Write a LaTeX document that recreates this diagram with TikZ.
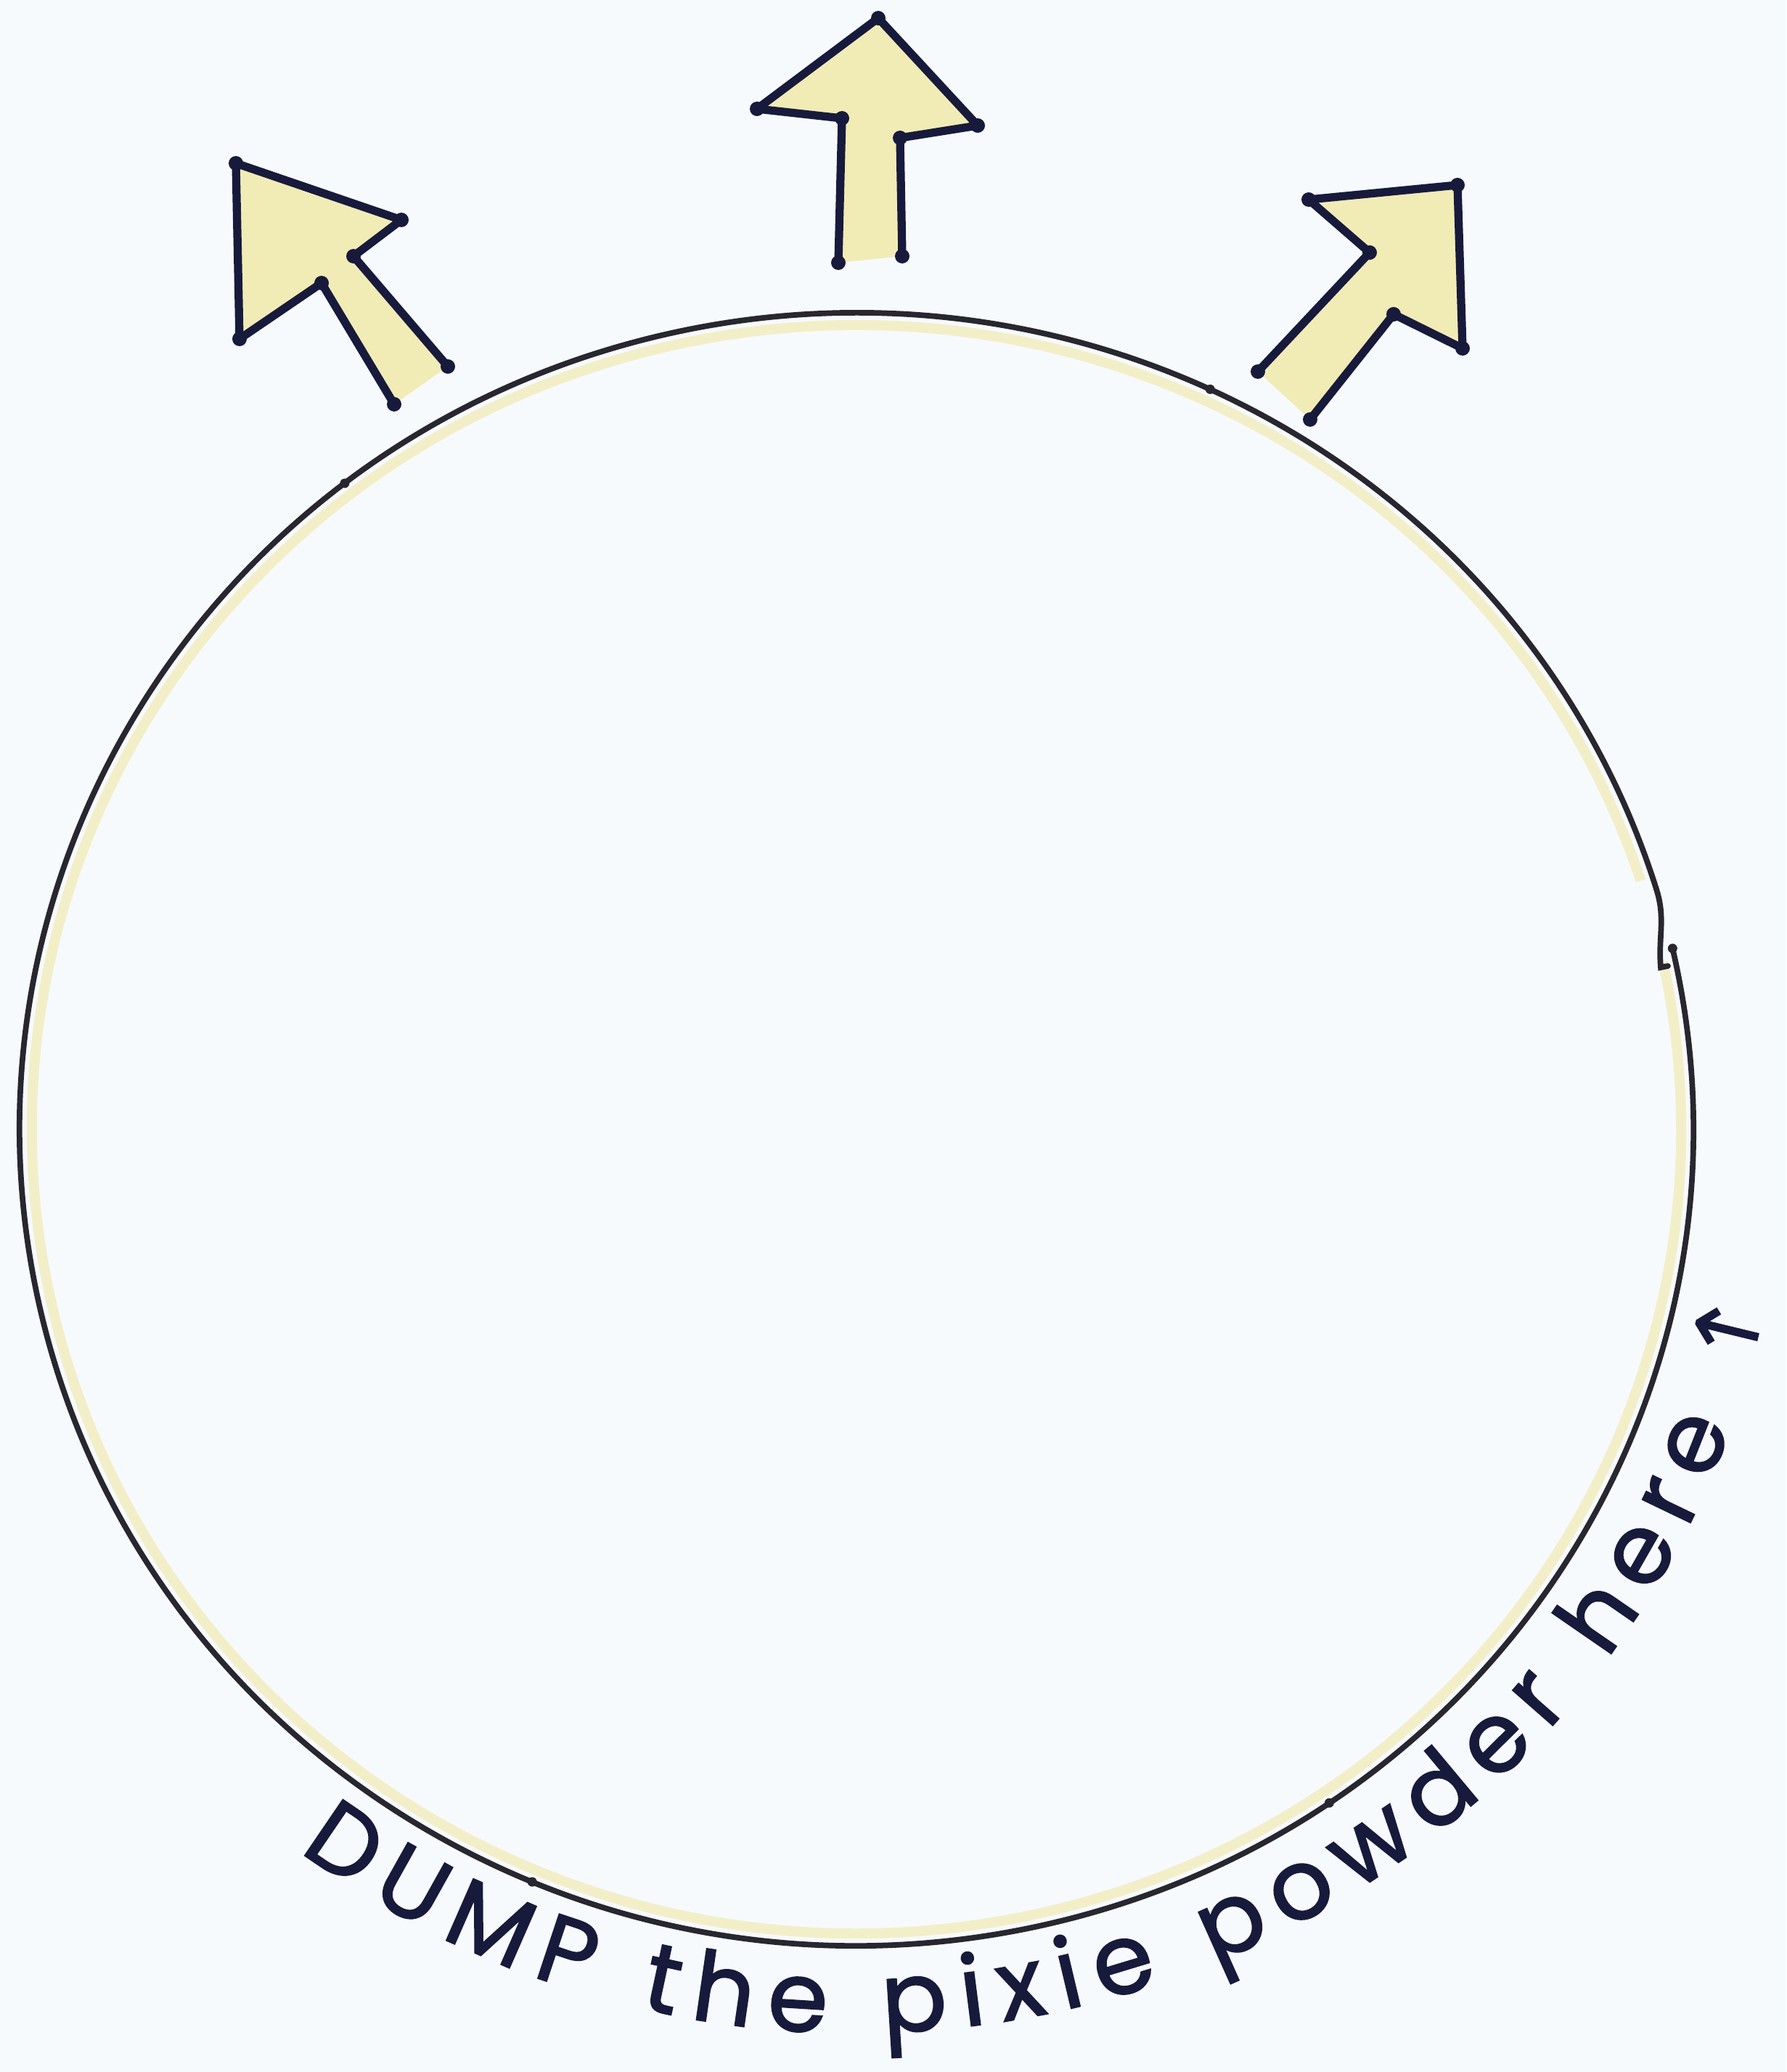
\documentclass[tikz,border=0pt]{standalone}
\usepackage{fontspec}
\usetikzlibrary{calc, decorations.text}
\newfontfamily\handfont[FakeBold=1.6]{Poppins}
\newfontfamily\symfont[FakeBold=1.2]{DejaVu Sans}
\definecolor{paper}{RGB}{246,250,253}
\definecolor{ink}{RGB}{24,26,60}
\definecolor{rim}{RGB}{40,38,46}
\definecolor{pixie}{RGB}{240,233,165}

\tikzset{
  outline/.style={ink, line width=3.2pt, line join=round, line cap=round},
  glow/.style={fill=pixie, opacity=0.8},
  pendot/.style={circle, fill=ink, inner sep=0pt, minimum size=0.2cm},
  rimdot/.style={circle, fill=rim, inner sep=0pt, minimum size=0.13cm},
  bowl/.style={x radius=11.53cm, y radius=11.25cm},
}

\begin{document}
\begin{tikzpicture}
  % Paper
  \fill[paper] (0,0) rectangle (24.61,-28.55);
  \useasboundingbox (0,0) rectangle (24.61,-28.55);
  \coordinate (c) at (11.80,-15.56);

  % Yellow wash inside the rim
  \draw[pixie, line width=0.14cm, opacity=0.6] ($(c)+(12:11.36cm and 11.08cm)$)
    arc[start angle=12, end angle=-342, x radius=11.36cm, y radius=11.08cm];
  % Rim, one pen stroke that overshoots where it began
  \coordinate (rimstart) at ($(c)+(12.8:11.53cm and 11.25cm)$);
  \coordinate (rimend) at (22.88,-13.33);
  \draw[rim, line width=2.2pt, line cap=round] (rimstart)
    arc[bowl, start angle=12.8, end angle=-343] to[out=-73, in=95] (rimend) -- ++(0.1,0.02);
  \node[rimdot] (joint0) at (rimstart) {};
  \foreach \ang [count=\i] in {127.7,-112.8,-55.6,65}
    \node[rimdot] (joint\i) at ($(c)+(\ang:11.53cm and 11.25cm)$) {};

  % Middle arrow
  \coordinate (midLB) at (11.55,-3.62);
  \coordinate (midLT) at (11.60,-1.63);
  \coordinate (midLC) at (10.43,-1.50);
  \coordinate (midTip) at (12.10,-0.25);
  \coordinate (midRC) at (13.47,-1.73);
  \coordinate (midRT) at (12.40,-1.90);
  \coordinate (midRB) at (12.43,-3.53);

  % Left arrow
  \coordinate (lftLB) at (5.43,-5.57);
  \coordinate (lftLT) at (4.43,-3.90);
  \coordinate (lftLC) at (3.30,-4.67);
  \coordinate (lftTip) at (3.25,-2.25);
  \coordinate (lftRC) at (5.53,-3.03);
  \coordinate (lftRT) at (4.87,-3.53);
  \coordinate (lftRB) at (6.17,-5.05);

  % Right arrow
  \coordinate (rgtLB) at (17.33,-5.12);
  \coordinate (rgtLT) at (18.87,-3.48);
  \coordinate (rgtLC) at (18.03,-2.75);
  \coordinate (rgtTip) at (20.08,-2.55);
  \coordinate (rgtRC) at (20.15,-4.80);
  \coordinate (rgtRT) at (19.20,-4.33);
  \coordinate (rgtRB) at (18.05,-5.78);

  \foreach \a in {mid,lft,rgt} {
    \fill[glow] (\a LB) -- (\a LT) -- (\a LC) -- (\a Tip) -- (\a RC) -- (\a RT) -- (\a RB) -- cycle;
    \draw[outline] (\a LB) -- (\a LT) -- (\a LC) -- (\a Tip) -- (\a RC) -- (\a RT) -- (\a RB);
    \foreach \p in {LB,LT,LC,Tip,RC,RT,RB}
      \node[pendot] (dot\a\p) at (\a\p) {};
  }

  % Label along the bottom of the bowl
  \path[decorate, decoration={text along path, text align=fit to path, text color=ink,
      text={|\handfont\fontsize{38}{38}\selectfont|DUMP the pixie powder here |\symfont\fontsize{34}{34}\selectfont|↑}}]
    ($(c)+(-127:12.76cm and 12.45cm)$) arc[start angle=-127, end angle=-11, x radius=12.76cm, y radius=12.45cm];
\end{tikzpicture}
\end{document}
